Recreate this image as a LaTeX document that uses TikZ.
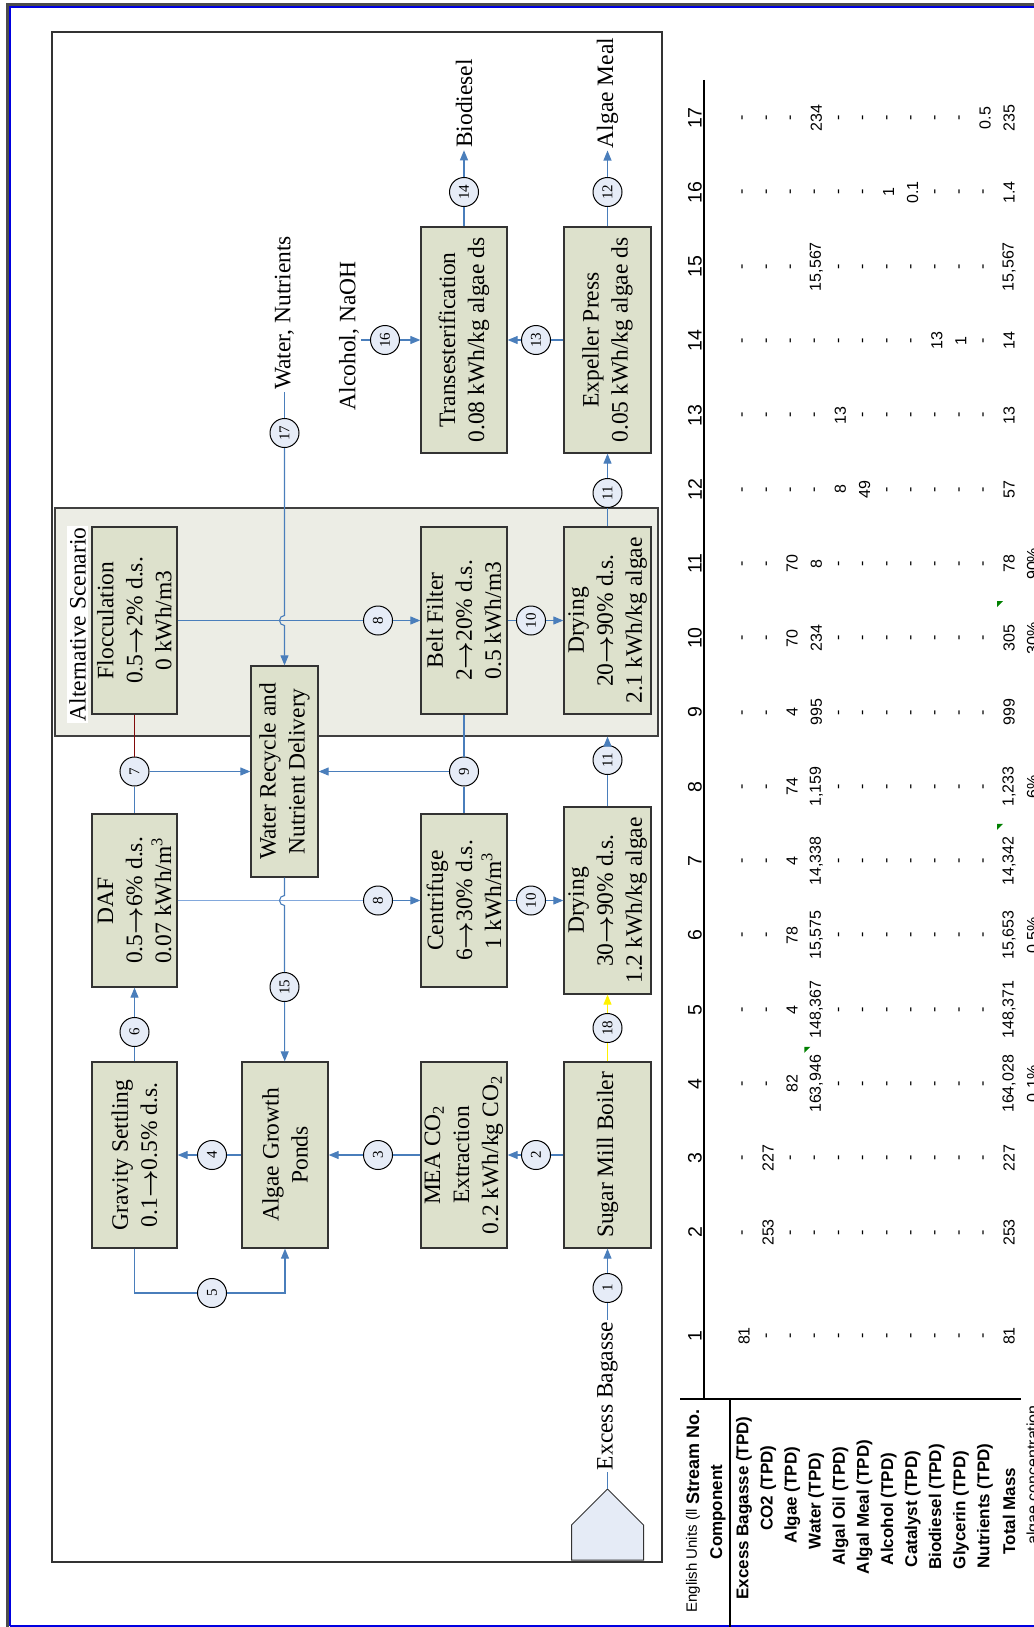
\documentclass[tikz,border=0pt]{standalone}
\usepackage{amsmath,amsbsy}
\usepackage{fontspec}
\setmainfont{Liberation Serif}
\setsansfont{Liberation Sans}
\usetikzlibrary{arrows.meta,calc}
\definecolor{boxfill}{RGB}{221,225,204}
\definecolor{altfill}{RGB}{236,237,229}
\definecolor{circfill}{RGB}{230,236,247}
\definecolor{housefill}{RGB}{229,235,246}
\definecolor{lineblue}{RGB}{74,126,187}
\definecolor{lightline}{RGB}{130,168,220}
\definecolor{darkred}{RGB}{128,10,10}
\definecolor{borderblue}{RGB}{0,0,225}
\definecolor{tgreen}{RGB}{0,128,0}
\newcommand{\tarrow}{$\boldsymbol{\rightarrow}$}
\newcommand{\boxfont}{\fontsize{11.75}{14.5}\selectfont}
\tikzset{
  proc/.style={draw=black!80, line width=0.65pt, fill=boxfill, rotate=90, align=center, inner sep=1pt, font=\boxfont},
  strm/.style={circle, draw=black, line width=0.5pt, fill=circfill, minimum size=14.5pt, inner sep=0pt, rotate=90, font=\fontsize{7.5}{8}\selectfont},
  flow/.style={draw=lineblue, line width=0.55pt},
  arr/.style={flow, -{Triangle[length=5pt,width=4pt]}},
  lbl/.style={rotate=90, inner sep=1pt, font=\boxfont},
  tlab/.style={rotate=90, inner sep=0pt, font=\sffamily\bfseries\fontsize{8.5}{10}\selectfont},
  tdat/.style={rotate=90, inner sep=0pt, font=\sffamily\fontsize{8}{9.5}\selectfont},
  thdr/.style={rotate=90, inner sep=0pt, font=\sffamily\fontsize{9.75}{11}\selectfont},
  tline/.style={draw=black, line width=1.1pt},
}
\begin{document}
\begin{tikzpicture}[x=0.5pt,y=-0.5pt]
\useasboundingbox (0,0) rectangle (1033,1627);

% outer border
\draw[line width=1.25pt, draw=black!70] (7.5,1640) -- (7.5,4.3) -- (1045,4.3);
\draw[line width=1pt, draw=borderblue] (10.3,1625.5) -- (10.3,6.6) -- (1045,6.6);
\draw[line width=1pt, draw=borderblue] (10.3,1625.5) -- (1045,1625.5);

% diagram frame
\draw[line width=0.9pt, draw=black!80] (52,32) rectangle (662,1562);

% alternative scenario group
\node[draw=black!75, line width=0.6pt, fill=altfill, minimum width=301.5pt, minimum height=114pt, inner sep=0pt] (alt) at (356.5,622) {};
\node[lbl, fill=white] (altlbl) at (77.5,624.5) {Alternative Scenario};

% process boxes
\node[proc, minimum width=93pt, minimum height=42.5pt] (grav) at (134.5,1155) {Gravity Settling\\0.1\tarrow0.5\% d.s.};
\node[proc, minimum width=86.5pt, minimum height=42.5pt] (daf) at (134.5,900.5) {DAF\\0.5\tarrow6\% d.s.\\0.07 kWh/m\textsuperscript{3}};
\node[proc, minimum width=93.5pt, minimum height=42.5pt] (floc) at (134.5,620.5) {Flocculation\\0.5\tarrow2\% d.s.\\0 kWh/m3};
\node[proc, minimum width=93pt, minimum height=43pt] (ponds) at (285,1155) {Algae Growth\\Ponds};
\node[proc, minimum width=105.5pt, minimum height=33.5pt] (wrnd) at (284.5,771.5) {Water Recycle and\\Nutrient Delivery};
\node[proc, minimum width=93pt, minimum height=43pt] (mea) at (464,1155) {MEA CO\textsubscript{2}\\Extraction\\0.2 kWh/kg CO\textsubscript{2}};
\node[proc, minimum width=86.5pt, minimum height=43pt] (cent) at (464,900.5) {Centrifuge\\6\tarrow30\% d.s.\\1 kWh/m\textsuperscript{3}};
\node[proc, minimum width=93.5pt, minimum height=43pt] (belt) at (464,620.5) {Belt Filter\\2\tarrow20\% d.s.\\0.5 kWh/m3};
\node[proc, minimum width=113pt, minimum height=43pt] (trans) at (464,340) {Transesterification\\0.08 kWh/kg algae ds};
\node[proc, minimum width=93pt, minimum height=43.5pt] (boiler) at (607.5,1155) {Sugar Mill Boiler};
\node[proc, minimum width=93.5pt, minimum height=43.5pt] (dry1) at (607.5,900.5) {Drying\\30\tarrow90\% d.s.\\1.2 kWh/kg algae};
\node[proc, minimum width=93.5pt, minimum height=43.5pt] (dry2) at (607.5,620.5) {Drying\\20\tarrow90\% d.s.\\2.1 kWh/kg algae};
\node[proc, minimum width=113pt, minimum height=43.5pt] (exp) at (607.5,340) {Expeller Press\\0.05 kWh/kg algae ds};

% stream circles
\foreach \n/\x/\y/\t in {c1/607.5/1288/1, c2/536/1155/2, c3/378/1155/3, c4/212/1155/4,
  c5/212/1293/5, c6/134.5/1032/6, c7/134.5/771.5/7, c8a/378/900.5/8, c8b/378/620.5/8,
  c9/464/771.5/9, c10a/531/900.5/10, c10b/531/620.5/10, c11a/607.5/760/11, c11b/607.5/493/11,
  c12/607.5/192/12, c13/536/340/13, c14/464/192/14, c15/284.5/987/15, c16/385/340/16,
  c17/284.5/433/17, c18/607.5/1028/18}
  \node[strm] (\n) at (\x,\y) {\t};

% free labels
\node[lbl] (ebl) at (607.5,1396) {Excess Bagasse};
\node[lbl] (wnl) at (284.5,313) {Water, Nutrients};
\node[lbl] (alcl) at (349,336) {Alcohol, NaOH};
\node[lbl] (biol) at (464,103.5) {Biodiesel};
\node[lbl] (meall) at (607.5,93) {Algae Meal};

% source shape
\coordinate (hapex) at (607.5,1489);
\draw[draw=black!80, line width=0.5pt, fill=housefill] (571.5,1560) -- (571.5,1525) -- (hapex) -- (643.5,1525) -- (643.5,1560) -- cycle;

% connectors
\draw[flow] (hapex) -- (ebl);
\draw[flow] (ebl) -- (c1);
\draw[arr] (c1) -- (boiler);
\draw[flow] (boiler) -- (c2);
\draw[arr] (c2) -- (mea);
\draw[flow] (mea) -- (c3);
\draw[arr] (c3) -- (ponds);
\draw[flow] (ponds) -- (c4);
\draw[arr] (c4) -- (grav);
\draw[flow] (grav.west) |- (c5);
\draw[arr] (c5) -| (ponds.west);
\draw[flow] (grav) -- (c6);
\draw[arr] (c6) -- (daf);
\draw[flow] (daf) -- (c7);
\draw[flow, draw=darkred] (c7) -- (floc);
\draw[arr] (c7) -- (wrnd);
\draw[flow, draw=lightline, line width=0.9pt] (daf) -- (c8a);
\draw[arr] (c8a) -- (cent);
\draw[flow] (floc) -- (c8b);
\draw[arr] (c8b) -- (belt);
\draw[flow] (belt) -- (c9) -- (cent);
\draw[arr] (c9) -- (wrnd);
\draw[flow] (cent) -- (c10a);
\draw[arr] (c10a) -- (dry1);
\draw[flow] (belt) -- (c10b);
\draw[arr] (c10b) -- (dry2);
\draw[flow] (dry1) -- (c11a);
\draw[arr] (c11a) -- (c11a |- alt.south);
\draw[flow] (dry2) -- (c11b);
\draw[arr] (c11b) -- (exp);
\draw[flow] (exp) -- (c12);
\draw[arr] (c12) -- (meall);
\draw[flow] (exp) -- (c13);
\draw[arr] (c13) -- (trans);
\draw[flow] (trans) -- (c14);
\draw[arr] (c14) -- (biol);
\draw[flow] (wrnd) -- (284.5,895.5) arc[start angle=90, end angle=270, radius=2.5pt] -- (c15);
\draw[arr] (c15) -- (ponds);
\draw[flow] (alcl.south |- c16) -- (c16);
\draw[arr] (c16) -- (trans);
\draw[flow] (wnl) -- (c17);
\draw[arr] (c17) -- (284.5,615.5) arc[start angle=90, end angle=270, radius=2.5pt] -- (wrnd);
\draw[flow, draw=yellow] (boiler) -- (c18);
\draw[arr, draw=yellow] (c18) -- (dry1);

% ===== table =====
\draw[tline] (704,80) -- (704,1399);
\draw[tline] (680,1399) -- (1021,1399);
\draw[tline] (730,1399) -- (730,1640);

\node[tdat, font=\sffamily\fontsize{7.5}{9}\selectfont, anchor=west] (eng) at (693,1613) {English Units (ll};
\node[tlab, font=\sffamily\bfseries\fontsize{9}{10}\selectfont, anchor=west] (stn) at (693,1505) {Stream No.};
\node[tlab] (comp) at (718,1512) {Component};

\node[tlab] (r0) at (744,1508) {Excess Bagasse (TPD)};
\node[tlab] (r1) at (768.1,1488) {CO2 (TPD)};
\node[tlab] (r2) at (792.2,1495) {Algae (TPD)};
\node[tlab] (r3) at (816.3,1501) {Water (TPD)};
\node[tlab] (r4) at (840.4,1506) {Algal Oil (TPD)};
\node[tlab] (r5) at (864.5,1507) {Algal Meal (TPD)};
\node[tlab] (r6) at (888.6,1509) {Alcohol (TPD)};
\node[tlab] (r7) at (912.7,1509) {Catalyst (TPD)};
\node[tlab] (r8) at (936.8,1507) {Biodiesel (TPD)};
\node[tlab] (r9) at (960.9,1510) {Glycerin (TPD)};
\node[tlab] (r10) at (985,1506) {Nutrients (TPD)};
\node[tlab] (r11) at (1009.1,1511) {Total Mass};
\node[tdat, anchor=base] (r12) at (1038,1475) {algae concentration};

\node[thdr] (h1) at (695,1336) {1};
\foreach \k in {2,...,17}
  \node[thdr] (h\k) at (695,{118+(17-\k)*74.3}) {\k};

\foreach \v [count=\r from 0] in {81,-,-,-,-,-,-,-,-,-,-,81}
  \node[tdat] (d1-\r) at ({744+24.1*\r},1336) {\v};
\foreach \v [count=\r from 0] in {-,253,-,-,-,-,-,-,-,-,-,253}
  \node[tdat] (d2-\r) at ({744+24.1*\r},1232.5) {\v};
\foreach \v [count=\r from 0] in {-,227,-,-,-,-,-,-,-,-,-,227}
  \node[tdat] (d3-\r) at ({744+24.1*\r},1158.2) {\v};
\foreach \v [count=\r from 0] in {-,-,82,{163,946},-,-,-,-,-,-,-,{164,028}}
  \node[tdat] (d4-\r) at ({744+24.1*\r},1083.9) {\v};
\foreach \v [count=\r from 0] in {-,-,4,{148,367},-,-,-,-,-,-,-,{148,371}}
  \node[tdat] (d5-\r) at ({744+24.1*\r},1009.6) {\v};
\foreach \v [count=\r from 0] in {-,-,78,{15,575},-,-,-,-,-,-,-,{15,653}}
  \node[tdat] (d6-\r) at ({744+24.1*\r},935.3) {\v};
\foreach \v [count=\r from 0] in {-,-,4,{14,338},-,-,-,-,-,-,-,{14,342}}
  \node[tdat] (d7-\r) at ({744+24.1*\r},861) {\v};
\foreach \v [count=\r from 0] in {-,-,74,{1,159},-,-,-,-,-,-,-,{1,233}}
  \node[tdat] (d8-\r) at ({744+24.1*\r},786.7) {\v};
\foreach \v [count=\r from 0] in {-,-,4,995,-,-,-,-,-,-,-,999}
  \node[tdat] (d9-\r) at ({744+24.1*\r},712.4) {\v};
\foreach \v [count=\r from 0] in {-,-,70,234,-,-,-,-,-,-,-,305}
  \node[tdat] (d10-\r) at ({744+24.1*\r},638.1) {\v};
\foreach \v [count=\r from 0] in {-,-,70,8,-,-,-,-,-,-,-,78}
  \node[tdat] (d11-\r) at ({744+24.1*\r},563.8) {\v};
\foreach \v [count=\r from 0] in {-,-,-,-,8,49,-,-,-,-,-,57}
  \node[tdat] (d12-\r) at ({744+24.1*\r},489.5) {\v};
\foreach \v [count=\r from 0] in {-,-,-,-,13,-,-,-,-,-,-,13}
  \node[tdat] (d13-\r) at ({744+24.1*\r},415.2) {\v};
\foreach \v [count=\r from 0] in {-,-,-,-,-,-,-,-,13,1,-,14}
  \node[tdat] (d14-\r) at ({744+24.1*\r},340.9) {\v};
\foreach \v [count=\r from 0] in {-,-,-,{15,567},-,-,-,-,-,-,-,{15,567}}
  \node[tdat] (d15-\r) at ({744+24.1*\r},266.6) {\v};
\foreach \v [count=\r from 0] in {-,-,-,-,-,-,1,0.1,-,-,-,1.4}
  \node[tdat] (d16-\r) at ({744+24.1*\r},192.3) {\v};
\foreach \v [count=\r from 0] in {-,-,-,234,-,-,-,-,-,-,0.5,235}
  \node[tdat] (d17-\r) at ({744+24.1*\r},118) {\v};

% concentration row (cut by the edge)
\foreach \n/\y/\t in {k4/1083.9/0.1\%, k6/935.3/0.5\%, k8/786.7/6\%, k10/638.1/30\%, k11/563.8/90\%}
  \node[tdat, anchor=base] (\n) at (1038,\y) {\t};

% comment markers
\fill[tgreen] (804.3,1046.8) -- (804.3,1052.8) -- (810.3,1046.8) -- cycle;
\fill[tgreen] (997,823.9) -- (997,829.9) -- (1003,823.9) -- cycle;
\fill[tgreen] (997,601) -- (997,607) -- (1003,601) -- cycle;
\end{tikzpicture}
\end{document}
